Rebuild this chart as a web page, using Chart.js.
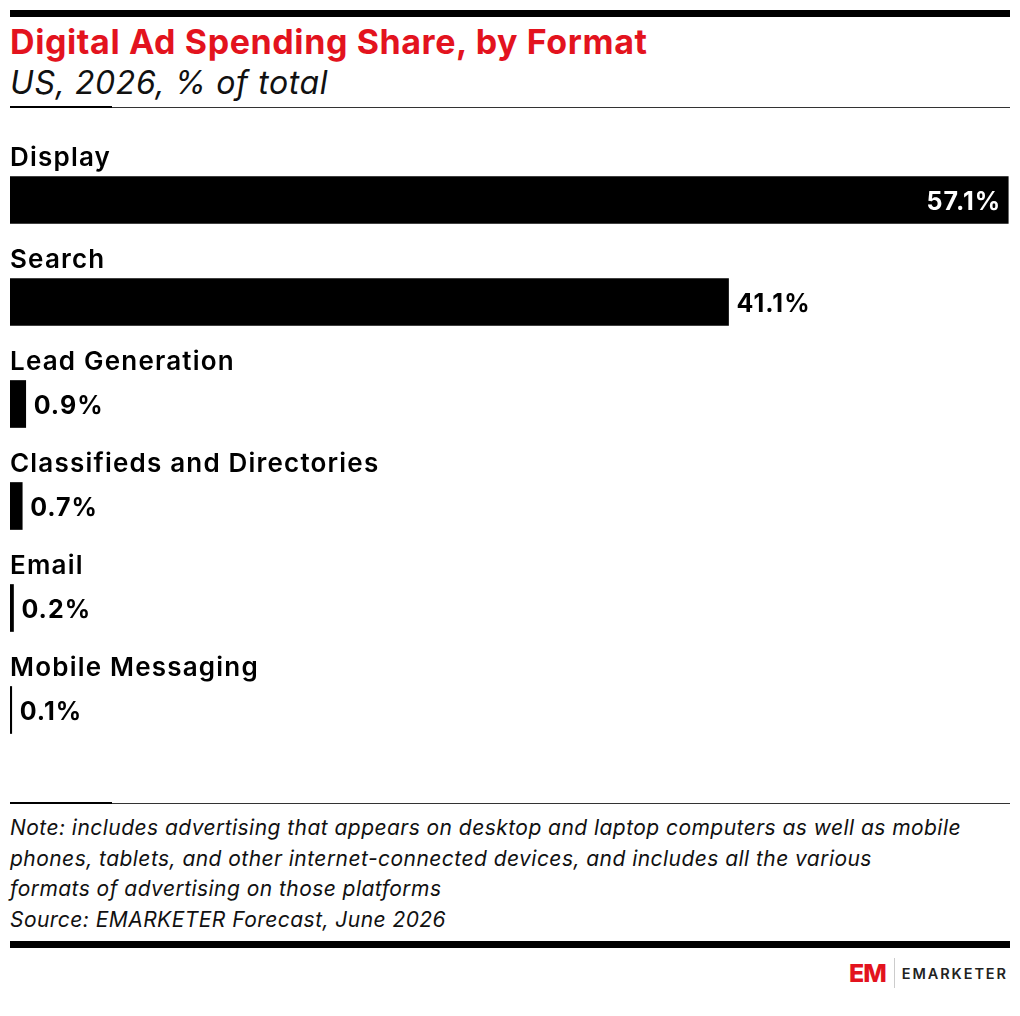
<!DOCTYPE html>
<html>
<head>
<meta charset="utf-8">
<script src="https://cdn.jsdelivr.net/npm/chart.js@4"></script>
<style>
  body { margin: 0; background: #fff; font-family: Inter, "Noto Sans", sans-serif; }
  #page { position: relative; width: 1020px; height: 1016px; overflow: hidden; }
  .rule { position: absolute; left: 10px; width: 1000px; background: #000; }
  #title { position: absolute; left: 10px; top: 21px; font-size: 34px; font-weight: 700; color: #e3131e; letter-spacing: 0.6px; white-space: nowrap; }
  #subtitle { position: absolute; left: 10px; top: 63px; font-size: 32px; font-style: italic; color: #111; letter-spacing: 0.6px; white-space: nowrap; }
  #chartBox { position: absolute; left: 10px; top: 119px; width: 1000px; height: 642px; }
  #notes { position: absolute; left: 10px; top: 813px; font-size: 21px; font-style: italic; line-height: 30.5px; color: #111; letter-spacing: 0.45px; white-space: nowrap; }
  #logo { position: absolute; left: 849px; top: 955px; height: 36px; display: flex; align-items: center; white-space: nowrap; }
  #logo .em { color: #e3131e; font-weight: 800; font-size: 25px; letter-spacing: -1px; }
  #logo .sep { width: 1px; height: 30px; background: #ccc; margin: 0 7px 0 8px; }
  #logo .name { font-size: 14.5px; font-weight: 600; letter-spacing: 1.9px; color: #222; }
</style>
</head>
<body>
<div id="page">
  <div class="rule" style="top:10px;height:7px;"></div>
  <div id="title">Digital Ad Spending Share, by Format</div>
  <div id="subtitle">US, 2026, % of total</div>
  <div class="rule" style="top:107px;height:1px;background:#333;"></div>
  <div class="rule" style="top:106px;height:2px;width:102px;"></div>
  <div id="chartBox"><canvas id="adChart"></canvas></div>
  <div class="rule" style="top:803px;height:1px;background:#333;"></div>
  <div class="rule" style="top:802px;height:2px;width:102px;"></div>
  <div id="notes">
    Note: includes advertising that appears on desktop and laptop computers as well as mobile<br>
    phones, tablets, and other internet-connected devices, and includes all the various<br>
    formats of advertising on those platforms<br>
    Source: EMARKETER Forecast, June 2026
  </div>
  <div class="rule" style="top:941px;height:7px;"></div>
  <div id="logo"><span class="em">EM</span><span class="sep"></span><span class="name">EMARKETER</span></div>
</div>
<script>
const formats = [
  "Display",
  "Search",
  "Lead Generation",
  "Classifieds and Directories",
  "Email",
  "Mobile Messaging",
];
const shares = [57.1, 41.1, 0.9, 0.7, 0.2, 0.1];

// Draws the category name above each bar and the value at the bar end
const barLabels = {
  id: "barLabels",
  afterDatasetsDraw(chart) {
    const ctx = chart.ctx;
    const meta = chart.getDatasetMeta(0);
    const area = chart.chartArea;
    ctx.save();
    meta.data.forEach((bar, i) => {
      const top = bar.y - bar.height / 2;
      ctx.fillStyle = "#000";
      ctx.font = "600 26px Inter, 'Noto Sans', sans-serif";
      ctx.letterSpacing = "1.2px";
      ctx.textAlign = "left";
      ctx.textBaseline = "alphabetic";
      ctx.fillText(formats[i], area.left, top - 11);

      const text = shares[i].toFixed(1) + "%";
      ctx.font = "700 25px Inter, 'Noto Sans', sans-serif";
      ctx.letterSpacing = "1px";
      ctx.textBaseline = "middle";
      const w = ctx.measureText(text).width;
      if (bar.x + w + 10 > area.right) {
        ctx.fillStyle = "#fff";
        ctx.textAlign = "right";
        ctx.fillText(text, bar.x - 7, bar.y + 2);
      } else {
        ctx.fillStyle = "#000";
        ctx.textAlign = "left";
        ctx.fillText(text, bar.x + 8, bar.y + 2);
      }
    });
    ctx.restore();
  },
};

const adCtx = document.getElementById("adChart").getContext("2d");

const adChart = new Chart(adCtx, {
  type: "bar",
  data: {
    labels: formats,
    datasets: [
      {
        label: "% of total",
        data: shares,
        backgroundColor: "#000",
        borderWidth: 0,
        barThickness: 47,
      },
    ],
  },
  options: {
    indexAxis: "y",
    responsive: true,
    maintainAspectRatio: false,
    animation: false,
    layout: { padding: { top: 30, left: 0, right: 0, bottom: 0 } },
    plugins: { legend: { display: false }, tooltip: { enabled: false } },
    scales: {
      x: { display: false, min: 0, max: 57.2 },
      y: { display: false },
    },
  },
  plugins: [barLabels],
});
</script>
</body>
</html>
